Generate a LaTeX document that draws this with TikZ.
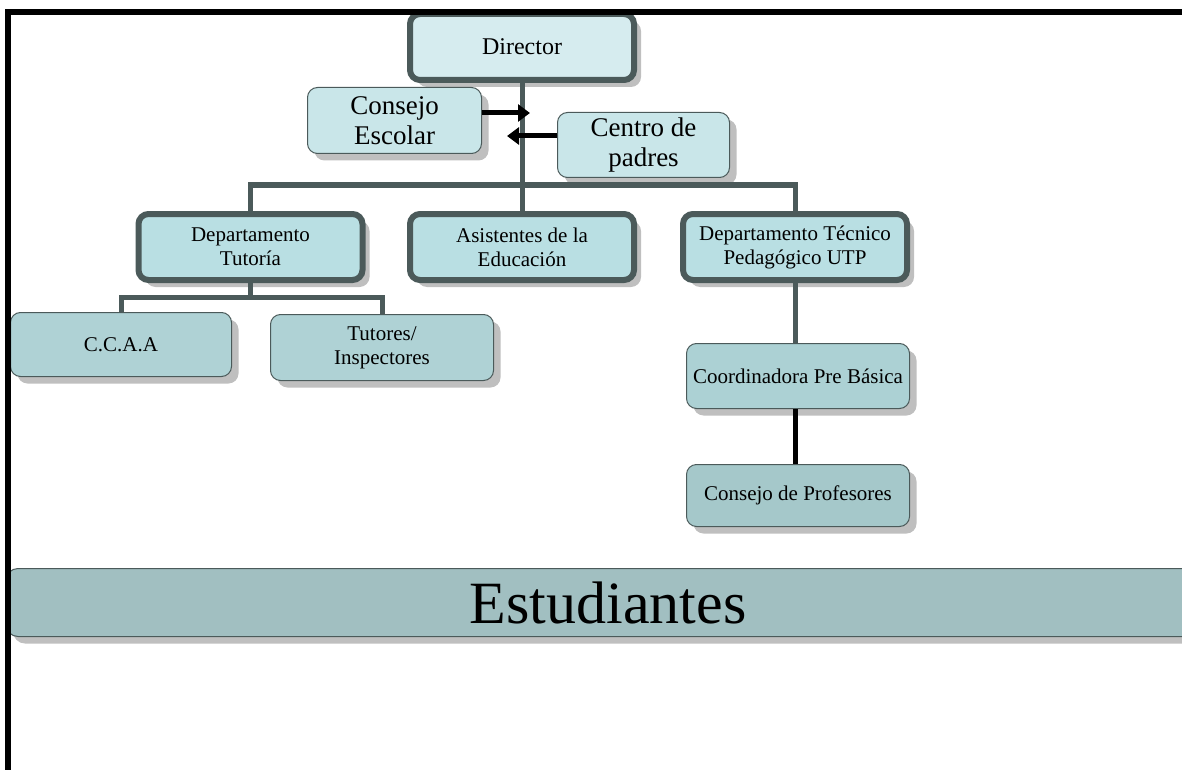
\documentclass[tikz,border=0pt]{standalone}
\usepackage{fontspec}
\setmainfont{Liberation Serif}
\usetikzlibrary{shadows}
\usetikzlibrary{arrows.meta}

\definecolor{borde}{HTML}{4B5A5A}
\definecolor{sombra}{HTML}{BFBFBF}
\definecolor{cielo}{HTML}{D6ECEF}
\definecolor{agua}{HTML}{B9DFE3}
\definecolor{aguaclara}{HTML}{C9E6E9}
\definecolor{verdoso}{HTML}{AFD2D5}
\definecolor{verdosob}{HTML}{ACD1D4}
\definecolor{grisazul}{HTML}{A5C8CA}
\definecolor{barra}{HTML}{A1BFC1}

\begin{document}
\begin{tikzpicture}[x=1pt,y=-1pt]
\tikzset{caja/.style={
    draw=borde, line width=1pt, rounded corners=10pt, align=center, inner sep=2pt,
    drop shadow={shadow xshift=7pt, shadow yshift=-7pt, fill=sombra, opacity=1},
    font=\fontsize{21}{24}\selectfont
},
jefe/.style={caja, line width=6pt, minimum width=224pt, minimum height=66pt},
linea/.style={draw=borde, line width=5pt},
flecha/.style={line width=5pt, -{Triangle[length=12pt,width=17pt]}}
}
    \clip (0,0) rectangle (1182,770);

    % estudiantes
    \node[caja, fill=barra, minimum width=1204pt, minimum height=68pt, rounded corners=12pt,
          font=\fontsize{60}{66}\selectfont] (est) at (608,602.5) {Estudiantes};

    % director y apoyo
    \node[jefe, fill=cielo, font=\fontsize{24}{27}\selectfont] (dir) at (522,47) {Director};
    \node[caja, fill=aguaclara, minimum width=174pt, minimum height=66pt,
          font=\fontsize{27}{30}\selectfont] (ce) at (394.5,120.5) {Consejo\\Escolar};
    \node[caja, fill=aguaclara, minimum width=172pt, minimum height=65pt,
          font=\fontsize{27}{30}\selectfont] (cp) at (643.5,145) {Centro de\\padres};

    % departamentos
    \node[jefe, fill=agua] (tut) at (250.5,247) {Departamento\\Tutoría};
    \node[jefe, fill=agua] (asis) at (522,247) {Asistentes de la\\Educación};
    \node[jefe, fill=agua] (tec) at (795,247) {Departamento Técnico\\Pedagógico UTP};

    \node[caja, fill=verdoso, minimum width=221pt, minimum height=64pt] (cc) at (121,344.5) {C.C.A.A};
    \node[caja, fill=verdoso, minimum width=223pt, minimum height=66pt] (tu) at (382,347.5) {Tutores/\\Inspectores};
    \node[caja, fill=verdosob, minimum width=223pt, minimum height=65pt] (coord) at (798,376) {Coordinadora Pre Básica};
    \node[caja, fill=grisazul, minimum width=223pt, minimum height=62pt] (prof) at (798,495.5) {Consejo de Profesores};

    % lineas
    \coordinate (nudo) at (522,185);
    \coordinate (rama) at (250.5,297);
    \draw[linea] (dir.south) -- (asis.north);
    \draw[linea] (tut.north) |- (nudo) -| (tec.north);
    \draw[linea] (tut.south) -- (rama);
    \draw[linea] (cc.north) |- (rama) -| (tu.north);
    \draw[linea] (tec.south) -- (tec.south |- coord.north);
    \draw[line width=5pt] (coord.south -| tec.south) -- (prof.north -| tec.south);

    \coordinate (pc1) at (530,113);
    \coordinate (pc2) at (507,136);
    \draw[flecha] (ce.east |- pc1) -- (pc1);
    \draw[flecha] (cp.west |- pc2) -- (pc2);

    % marco
    \draw[line width=6pt] (8,770) -- (8,12.5) -- (1182,12.5);
\end{tikzpicture}
\end{document}
